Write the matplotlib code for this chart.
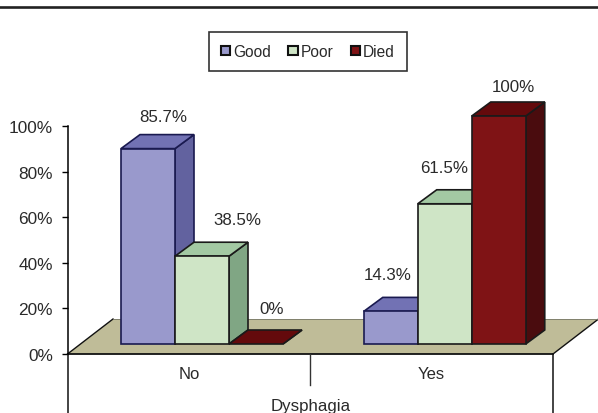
import matplotlib
matplotlib.use("Agg")
import matplotlib.pyplot as plt
from matplotlib.lines import Line2D
from matplotlib.patches import Patch, Polygon

plt.rcParams['font.family'] = ['Liberation Sans', 'DejaVu Sans']

categories = ['No', 'Yes']
series = ['Good', 'Poor', 'Died']
good = [85.7, 14.3]
poor = [38.5, 61.5]
died = [0, 100]
yticks = [0, 20, 40, 60, 80, 100]

# front, top, side colours
front = ['#9999CC', '#CFE5C6', '#7F1315']
top = ['#7272B4', '#A3C9A3', '#640A0C']
side = ['#62629F', '#80A684', '#4A0C0E']
edges = ['#1A1A50', '#1A1A1A', '#1A1A1A']
textcol = '#2A2A2A'

W, H = 598, 414
fig = plt.figure(figsize=(W / 100, H / 100), dpi=100)
ax = fig.add_axes([67.5 / W, 1 - 355 / H, (553 - 67.5) / W, (355 - 127) / H])
ax.set_xlim(0, 2)
ax.set_ylim(0, 100)

# 3d look, in axis units
barw = 54 / 242.75
dx = 19 / 242.75
dy = 14 / 2.28
base = 10 / 2.28
floor_dx = 45.5 / 242.75
floor_dy = 35 / 2.28
centers = [134.5 / 242.75, 134.5 / 242.75 + 1]

floor = Polygon([(0, 0), (2, 0), (2 + floor_dx, floor_dy), (floor_dx, floor_dy)],
                closed=True, fc='#BFBC98', ec='none', clip_on=False, zorder=1)
ax.add_patch(floor)
ax.plot([0, floor_dx], [0, floor_dy], color='#111111', lw=1, clip_on=False, zorder=1.5)
ax.plot([2, 2 + floor_dx], [0, floor_dy], color='#111111', lw=1, clip_on=False, zorder=1.5)
ax.plot([floor_dx, 2 + floor_dx], [floor_dy, floor_dy], color='#777766', lw=0.6, clip_on=False, zorder=1.5)

# labels are placed by hand like in the original, offset in pixels from bar top
label_off = [[(15, 32), (-3, 37)], [(35, 37), (-1, 36)], [(16, 35), (15, 30)]]
vals = [good, poor, died]

z = 2
for c in range(2):
    for s in range(3):
        v = vals[s][c]
        x0 = centers[c] + (s - 1.5) * barw
        x1 = x0 + barw
        y0 = base
        y1 = base + v
        lw = 1.2
        ax.add_patch(Polygon([(x1, y0), (x1 + dx, y0 + dy), (x1 + dx, y1 + dy), (x1, y1)],
                             fc=side[s], ec=edges[s], lw=lw, clip_on=False, zorder=z))
        ax.add_patch(Polygon([(x0, y1), (x1, y1), (x1 + dx, y1 + dy), (x0 + dx, y1 + dy)],
                             fc=top[s], ec=edges[s], lw=lw, clip_on=False, zorder=z))
        if v > 0:
            ax.add_patch(Polygon([(x0, y0), (x1, y0), (x1, y1), (x0, y1)],
                                 fc=front[s], ec=edges[s], lw=lw, clip_on=False, zorder=z))
        z += 0.1
        txt = '%g%%' % v
        ax.annotate(txt, (x0 + barw / 2, y1), xytext=label_off[s][c], textcoords='offset pixels',
                    ha='center', va='center', fontsize=12.2, color=textcol, zorder=10,
                    annotation_clip=False)

# axes
for sp in ['top', 'right', 'bottom']:
    ax.spines[sp].set_visible(False)
ax.spines['left'].set_bounds(0, 100)
ax.spines['left'].set_linewidth(1.1)
ax.patch.set_visible(False)
ax.axhline(0, color='#111111', lw=1.3, zorder=1.6, clip_on=False)
ax.plot([0, 0], [0, -26], color='#111111', lw=1.1, clip_on=False)
ax.plot([2, 2], [0, -26], color='#111111', lw=1.1, clip_on=False)
ax.plot([1, 1], [0, -13.5], color='#333333', lw=1, clip_on=False)

ax.set_yticks(yticks)
ax.set_yticklabels(['%d%%' % t for t in yticks], fontsize=12.4, color=textcol)
ax.tick_params(axis='y', length=4, width=1, pad=6.5)
ax.set_xticks([0.5, 1.5])
ax.set_xticklabels(categories, fontsize=12, color=textcol)
ax.tick_params(axis='x', length=0, pad=8.5)
ax.set_xlabel('Dysphagia', fontsize=12.2, color=textcol, labelpad=12.5)

handles = [Patch(fc=front[i], ec='#111111', lw=1.5) for i in range(3)]
leg = fig.legend(handles, series, loc='center', bbox_to_anchor=(308 / W, 1 - 52.5 / H), ncol=3,
                 fontsize=11.2, frameon=True, fancybox=False, edgecolor='#333333', framealpha=1,
                 handlelength=0.6, handleheight=0.6, handletextpad=0.2, columnspacing=1.1,
                 borderpad=0.75, borderaxespad=0, labelcolor=textcol)
leg.get_frame().set_linewidth(1.2)

fig.add_artist(Line2D([0, 1], [1 - 7.5 / H, 1 - 7.5 / H], color='#222222', lw=1.9))

fig.savefig('out.png', dpi=100)
